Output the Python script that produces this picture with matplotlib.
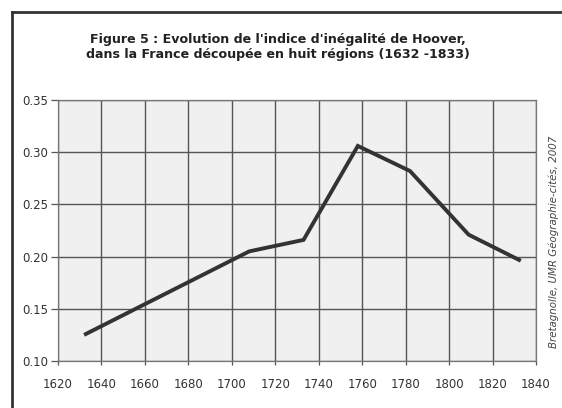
import matplotlib
matplotlib.use("Agg")
import matplotlib.pyplot as plt
from matplotlib.lines import Line2D

plt.rcParams["font.family"] = ["DejaVu Sans"]

# Hoover inequality index, France in eight regions
years = [1632, 1708, 1733, 1758, 1782, 1809, 1833]
hoover = [0.125, 0.205, 0.216, 0.306, 0.282, 0.221, 0.196]

x_ticks = list(range(1620, 1841, 20))
y_ticks = [0.10, 0.15, 0.20, 0.25, 0.30, 0.35]

title = ("Figure 5 : Evolution de l'indice d'inégalité de Hoover,\n"
         "dans la France découpée en huit régions (1632 -1833)")
credit = "Bretagnolle, UMR Géographie-cités, 2007"

fig = plt.figure(figsize=(5.62, 4.08), dpi=100)
fig.patch.set_facecolor("white")

# outer frame (cut off on right and bottom in the original)
fig.add_artist(Line2D([12 / 562, 12 / 562], [0, 1 - 12 / 408],
                      transform=fig.transFigure, color="#333333", lw=2))
fig.add_artist(Line2D([12 / 562, 1], [1 - 12 / 408, 1 - 12 / 408],
                      transform=fig.transFigure, color="#333333", lw=2))

ax = fig.add_axes([58 / 562, 47 / 408, 478 / 562, 261 / 408])
ax.set_facecolor("#f0f0f0")

ax.plot(years, hoover, color="#333333", linewidth=2.8,
        solid_joinstyle="miter", solid_capstyle="butt", zorder=3)

ax.set_xlim(1620, 1840)
ax.set_ylim(0.10, 0.35)
ax.set_xticks(x_ticks)
ax.set_yticks(y_ticks)
ax.set_yticklabels([f"{v:.2f}" for v in y_ticks])
ax.grid(True, color="#555555", linewidth=1.0)
ax.set_axisbelow(True)
for s in ax.spines.values():
    s.set_color("#777777")
    s.set_linewidth(0.9)
ax.tick_params(axis="both", labelsize=8.5, colors="#555555", labelcolor="#333333",
               width=0.9, direction="out")
ax.tick_params(axis="x", length=3, pad=9)
ax.tick_params(axis="y", length=5, pad=2)

fig.text(0.494, 0.885, title, ha="center", va="center", fontsize=9.1,
         fontweight="bold", color="#222222", linespacing=1.2)
fig.text(554 / 562, 1 - 242 / 408, credit, rotation=90, ha="center", va="center",
         fontsize=7.4, style="italic", color="#444444")

fig.savefig("out.png", dpi=100)
